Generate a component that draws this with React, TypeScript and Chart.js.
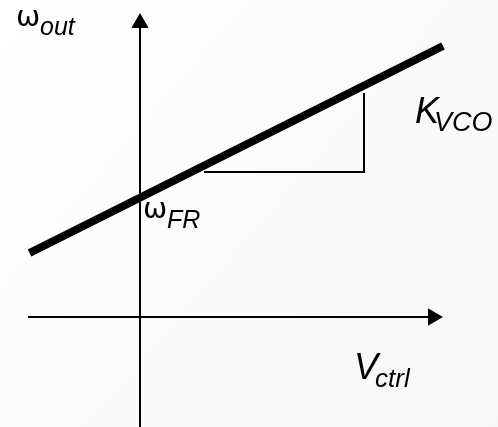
import React, { useEffect, useRef } from "react";
import { Chart, registerables } from "chart.js";

Chart.register(...registerables);

// VCO transfer characteristic: output frequency vs. control voltage.
// Coordinates are in a plane whose origin is the axes' crossing point.
const freeRunLine = [
  { x: -110.5, y: 64 },
  { x: 303, y: 271 },
];

// Rise/run marker that illustrates the gain K_VCO.
const gainMarker = [
  { x: 64, y: 145 },
  { x: 224, y: 145 },
  { x: 224, y: 224 },
];

const ctrlAxis = [
  { x: -112, y: 0 },
  { x: 292, y: 0 },
];
const ctrlArrow = [{ x: 293, y: 0 }];

const outAxis = [
  { x: 0, y: -112 },
  { x: 0, y: 292 },
];
const outArrow = [{ x: 0, y: 294 }];

const xRange = { min: -140, max: 358 };
const yRange = { min: -110, max: 317 };

type Label = {
  main: string;
  sub: string;
  at: { x: number; y: number };
  subAt: { x: number; y: number };
  mainFont: string;
  subFont: string;
};

const greekFont = "29px 'DejaVu Sans', sans-serif";

const labels: Label[] = [
  {
    main: "ω",
    sub: "out",
    at: { x: -124, y: 291 },
    subAt: { x: -100, y: 282 },
    mainFont: greekFont,
    subFont: "italic 25px 'Liberation Sans', Arial, sans-serif",
  },
  {
    main: "ω",
    sub: "FR",
    at: { x: 3, y: 99 },
    subAt: { x: 27, y: 89 },
    mainFont: greekFont,
    subFont: "italic 25px 'Liberation Sans', Arial, sans-serif",
  },
  {
    main: "K",
    sub: "VCO",
    at: { x: 275, y: 194 },
    subAt: { x: 294, y: 186 },
    mainFont: "italic 36px 'Liberation Sans', Arial, sans-serif",
    subFont: "italic 27px 'Liberation Sans', Arial, sans-serif",
  },
  {
    main: "V",
    sub: "ctrl",
    at: { x: 214, y: -62 },
    subAt: { x: 235, y: -70 },
    mainFont: "italic 36px 'Liberation Sans', Arial, sans-serif",
    subFont: "italic 26px 'Liberation Sans', Arial, sans-serif",
  },
];

const backgroundPlugin = {
  id: "paperBackground",
  beforeDraw(chart: Chart) {
    const { ctx, width, height } = chart;
    ctx.save();
    const g = ctx.createLinearGradient(0, 0, width, height);
    g.addColorStop(0, "#ffffff");
    g.addColorStop(1, "#f7f7f7");
    ctx.fillStyle = g;
    ctx.fillRect(0, 0, width, height);
    ctx.restore();
  },
};

const labelPlugin = {
  id: "subscriptLabels",
  afterDraw(chart: Chart) {
    const { ctx } = chart;
    const xs = chart.scales.x;
    const ys = chart.scales.y;
    ctx.save();
    ctx.fillStyle = "#000";
    ctx.textAlign = "left";
    ctx.textBaseline = "alphabetic";
    for (const l of labels) {
      ctx.font = l.mainFont;
      ctx.fillText(l.main, xs.getPixelForValue(l.at.x), ys.getPixelForValue(l.at.y));
      ctx.font = l.subFont;
      ctx.fillText(l.sub, xs.getPixelForValue(l.subAt.x), ys.getPixelForValue(l.subAt.y));
    }
    ctx.restore();
  },
};

export default function App() {
  const canvasRef = useRef<HTMLCanvasElement | null>(null);

  useEffect(() => {
    document.body.style.margin = "0";
    const canvas = canvasRef.current;
    if (!canvas) return;

    const line = (data: { x: number; y: number }[], width: number) => ({
      data,
      showLine: true,
      borderColor: "#000",
      backgroundColor: "#000",
      borderWidth: width,
      pointRadius: 0,
      borderCapStyle: "butt" as const,
      borderJoinStyle: "miter" as const,
    });

    const arrow = (data: { x: number; y: number }[], rotation: number) => ({
      data,
      showLine: false,
      pointStyle: "triangle" as const,
      pointRadius: 10,
      rotation,
      borderWidth: 0,
      backgroundColor: "#000",
      borderColor: "#000",
    });

    const chart = new Chart(canvas, {
      type: "scatter",
      data: {
        datasets: [
          line(ctrlAxis, 2),
          line(outAxis, 2),
          arrow(ctrlArrow, 90),
          arrow(outArrow, 0),
          line(gainMarker, 2),
          line(freeRunLine, 8),
        ],
      },
      options: {
        animation: false,
        responsive: false,
        events: [],
        layout: { padding: 0, autoPadding: false },
        plugins: {
          legend: { display: false },
          tooltip: { enabled: false },
        },
        scales: {
          x: { type: "linear", display: false, min: xRange.min, max: xRange.max },
          y: { type: "linear", display: false, min: yRange.min, max: yRange.max },
        },
      },
      plugins: [backgroundPlugin, labelPlugin],
    });

    return () => chart.destroy();
  }, []);

  return (
    <div style={{ width: 498, height: 427 }}>
      <canvas ref={canvasRef} width={498} height={427} />
    </div>
  );
}
